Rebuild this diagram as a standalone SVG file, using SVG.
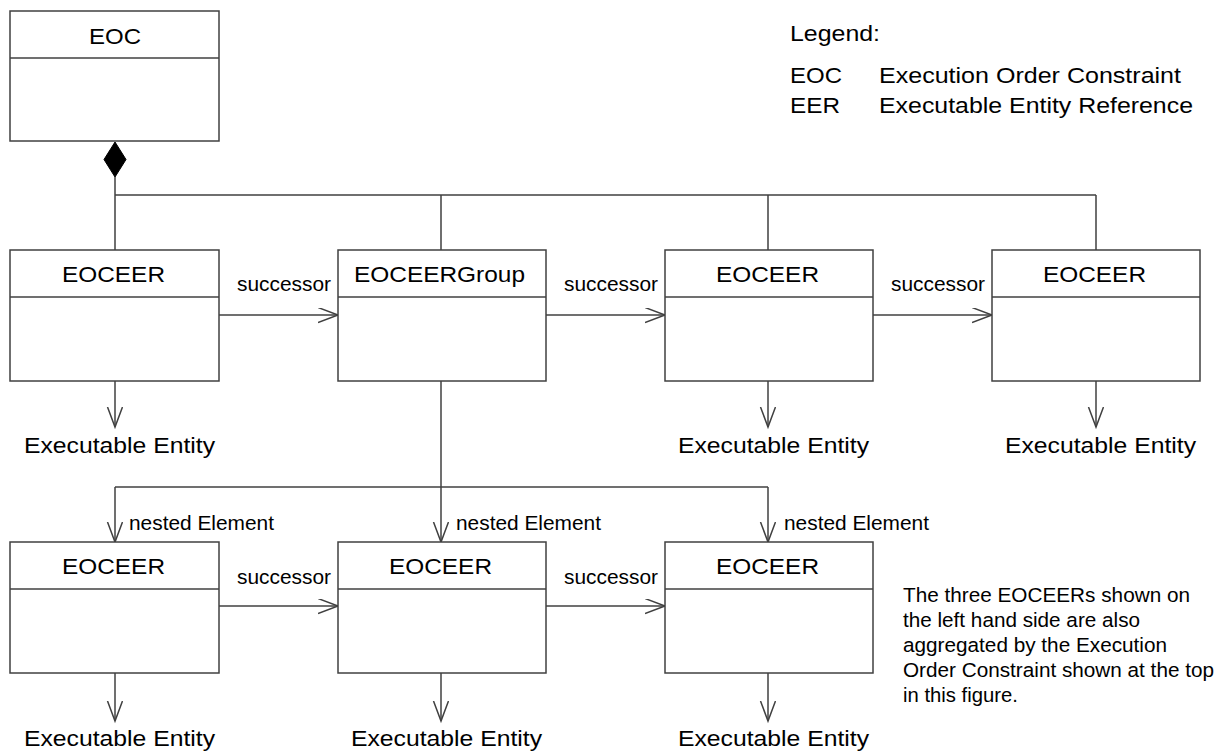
<svg xmlns="http://www.w3.org/2000/svg" width="1225" height="751" viewBox="0 0 1225 751">
<style>
.box{fill:#fff;stroke:#404040;stroke-width:1.5}
.div{stroke:#404040;stroke-width:1.5}
.ln{fill:none;stroke:#404040;stroke-width:1.5}
.arr{fill:none;stroke:#404040;stroke-width:1.5;marker-end:url(#open)}
text{font-family:"Liberation Sans",Arial,sans-serif;fill:#000}
.t{font-size:22px}
.s{font-size:20px}
.n{font-size:20.5px}
.c{text-anchor:middle}
</style>
<defs>
<marker id="open" markerUnits="userSpaceOnUse" markerWidth="24" markerHeight="18" refX="20" refY="7.5" orient="auto" viewBox="0 0 24 18">
<path d="M0,0 L20,7.5 L0,15" fill="none" stroke="#404040" stroke-width="1.5"/>
</marker>
</defs>
<g id="connectors">
<polygon points="115,142 126,159.5 115,177 104,159.5" fill="#000" stroke="#000" stroke-width="1"/>
<path class="ln" d="M115,177 V195 H1096 M115,195 V250 M441,195 V250 M768,195 V250 M1096,195 V250"/>
<path class="arr" d="M219,315 H338"/>
<path class="arr" d="M546,315 H665"/>
<path class="arr" d="M873,315 H992"/>
<path class="arr" d="M115,381 V427"/>
<path class="arr" d="M768,381 V427"/>
<path class="arr" d="M1096,381 V427"/>
<path class="ln" d="M115,487 H768"/>
<path class="arr" d="M441,381 V542"/>
<path class="arr" d="M115,487 V542"/>
<path class="arr" d="M768,487 V542"/>
<path class="arr" d="M219,606 H338"/>
<path class="arr" d="M546,606 H665"/>
<path class="arr" d="M115,673 V721"/>
<path class="arr" d="M441,673 V721"/>
<path class="arr" d="M768,673 V721"/>
<text class="s" x="237" y="291" textLength="94" lengthAdjust="spacingAndGlyphs">successor</text>
<text class="s" x="564" y="291" textLength="94" lengthAdjust="spacingAndGlyphs">successor</text>
<text class="s" x="891" y="291" textLength="94" lengthAdjust="spacingAndGlyphs">successor</text>
<text class="s" x="237" y="584" textLength="94" lengthAdjust="spacingAndGlyphs">successor</text>
<text class="s" x="564" y="584" textLength="94" lengthAdjust="spacingAndGlyphs">successor</text>
<text class="s" x="129" y="530" textLength="145" lengthAdjust="spacingAndGlyphs">nested Element</text>
<text class="s" x="456" y="530" textLength="145" lengthAdjust="spacingAndGlyphs">nested Element</text>
<text class="s" x="784" y="530" textLength="145" lengthAdjust="spacingAndGlyphs">nested Element</text>
</g>
<g id="eoc">
<rect class="box" x="10" y="11" width="209" height="130"/>
<line class="div" x1="10" y1="58" x2="219" y2="58"/>
<text class="t" x="89" y="44" textLength="52" lengthAdjust="spacingAndGlyphs">EOC</text>
</g>
<g id="eoceer1">
<rect class="box" x="10" y="250" width="209" height="131"/>
<line class="div" x1="10" y1="297" x2="219" y2="297"/>
<text class="t" x="62" y="282" textLength="103" lengthAdjust="spacingAndGlyphs">EOCEER</text>
</g>
<g id="eoceergroup">
<rect class="box" x="338" y="250" width="208" height="131"/>
<line class="div" x1="338" y1="297" x2="546" y2="297"/>
<text class="t" x="354" y="282" textLength="171" lengthAdjust="spacingAndGlyphs">EOCEERGroup</text>
</g>
<g id="eoceer2">
<rect class="box" x="665" y="250" width="208" height="131"/>
<line class="div" x1="665" y1="297" x2="873" y2="297"/>
<text class="t" x="716" y="282" textLength="103" lengthAdjust="spacingAndGlyphs">EOCEER</text>
</g>
<g id="eoceer3">
<rect class="box" x="992" y="250" width="208" height="131"/>
<line class="div" x1="992" y1="297" x2="1200" y2="297"/>
<text class="t" x="1043" y="282" textLength="103" lengthAdjust="spacingAndGlyphs">EOCEER</text>
</g>
<g id="eoceer4">
<rect class="box" x="10" y="542" width="209" height="131"/>
<line class="div" x1="10" y1="589" x2="219" y2="589"/>
<text class="t" x="62" y="574" textLength="103" lengthAdjust="spacingAndGlyphs">EOCEER</text>
</g>
<g id="eoceer5">
<rect class="box" x="338" y="542" width="208" height="131"/>
<line class="div" x1="338" y1="589" x2="546" y2="589"/>
<text class="t" x="389" y="574" textLength="103" lengthAdjust="spacingAndGlyphs">EOCEER</text>
</g>
<g id="eoceer6">
<rect class="box" x="665" y="542" width="208" height="131"/>
<line class="div" x1="665" y1="589" x2="873" y2="589"/>
<text class="t" x="716" y="574" textLength="103" lengthAdjust="spacingAndGlyphs">EOCEER</text>
</g>
<g id="ee1"><text class="t" x="24" y="453" textLength="191" lengthAdjust="spacingAndGlyphs">Executable Entity</text></g>
<g id="ee2"><text class="t" x="678" y="453" textLength="191" lengthAdjust="spacingAndGlyphs">Executable Entity</text></g>
<g id="ee3"><text class="t" x="1005" y="453" textLength="191" lengthAdjust="spacingAndGlyphs">Executable Entity</text></g>
<g id="ee4"><text class="t" x="24" y="746" textLength="191" lengthAdjust="spacingAndGlyphs">Executable Entity</text></g>
<g id="ee5"><text class="t" x="351" y="746" textLength="191" lengthAdjust="spacingAndGlyphs">Executable Entity</text></g>
<g id="ee6"><text class="t" x="678" y="746" textLength="191" lengthAdjust="spacingAndGlyphs">Executable Entity</text></g>
<g id="legend">
<text class="t" x="790" y="41" textLength="90" lengthAdjust="spacingAndGlyphs">Legend:</text>
<text class="t" x="790" y="83" textLength="52" lengthAdjust="spacingAndGlyphs">EOC</text>
<text class="t" x="879" y="83" textLength="302" lengthAdjust="spacingAndGlyphs">Execution Order Constraint</text>
<text class="t" x="790" y="113" textLength="50" lengthAdjust="spacingAndGlyphs">EER</text>
<text class="t" x="879" y="113" textLength="314" lengthAdjust="spacingAndGlyphs">Executable Entity Reference</text>
</g>
<g id="note">
<text class="n" x="903" y="602" textLength="287" lengthAdjust="spacingAndGlyphs">The three EOCEERs shown on</text>
<text class="n" x="903" y="627" textLength="237" lengthAdjust="spacingAndGlyphs">the left hand side are also</text>
<text class="n" x="903" y="652" textLength="264" lengthAdjust="spacingAndGlyphs">aggregated by the Execution</text>
<text class="n" x="903" y="677" textLength="311" lengthAdjust="spacingAndGlyphs">Order Constraint shown at the top</text>
<text class="n" x="903" y="702" textLength="115" lengthAdjust="spacingAndGlyphs">in this figure.</text>
</g>
</svg>
